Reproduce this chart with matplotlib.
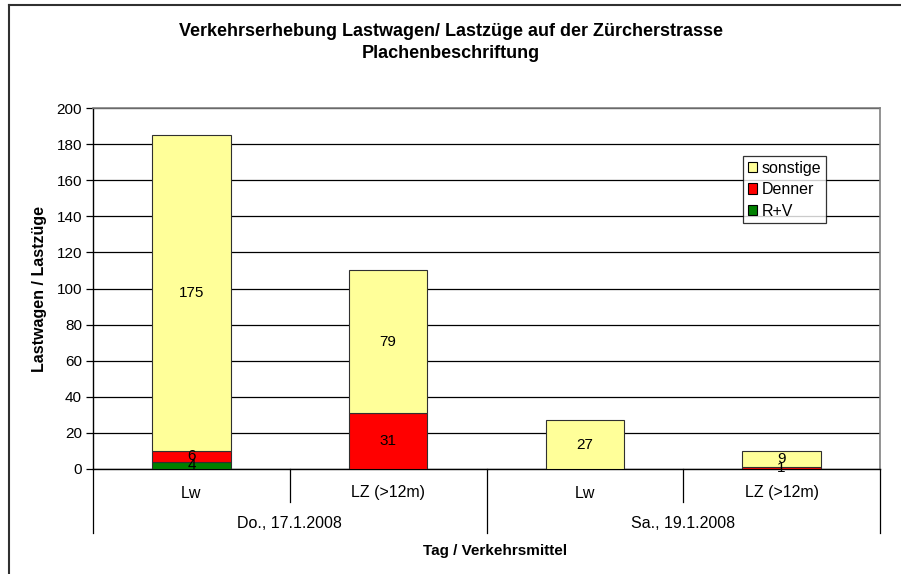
import matplotlib
matplotlib.use("Agg")
import matplotlib.pyplot as plt
from matplotlib.transforms import blended_transform_factory
from matplotlib.lines import Line2D
from matplotlib.patches import Patch
import numpy as np

plt.rcParams['font.family'] = ['Liberation Sans', 'DejaVu Sans']

categories = ["Lw", "LZ (>12m)", "Lw", "LZ (>12m)"]
groups = ["Do., 17.1.2008", "Sa., 19.1.2008"]
series_names = ["R+V", "Denner", "sonstige"]
rv = [4, 0, 0, 0]
denner = [6, 31, 0, 1]
sonstige = [175, 79, 27, 9]
colors = ["#008000", "#FF0000", "#FFFF99"]
yticks = [0, 20, 40, 60, 80, 100, 120, 140, 160, 180, 200]

W, H = 901, 574
fig = plt.figure(figsize=(W / 100, H / 100), dpi=100)
fig.patch.set_facecolor("white")

def fx(px):
    return px / W

def fy(py):
    return 1 - py / H

left, right, top, bottom = 93, 880, 108, 469
ax = fig.add_axes([fx(left), fy(bottom), fx(right - left), (bottom - top) / H])

x = np.arange(len(categories))
data = [rv, denner, sonstige]
base = np.zeros(len(categories))
for vals, col in zip(data, colors):
    vals = np.array(vals, dtype=float)
    ax.bar(x, vals, width=0.40, bottom=base, color=col, edgecolor="#303030",
           linewidth=0.8, zorder=3)
    for xi, v, b in zip(x, vals, base):
        if v > 0:
            ax.text(xi, b + v / 2, f"{int(v)}", ha="center", va="center",
                    fontsize=11, color="black", zorder=4)
    base = base + vals

ax.set_xlim(-0.5, len(categories) - 0.5)
ax.set_ylim(0, 200)
ax.set_yticks(yticks)
ax.set_yticklabels([str(t) for t in yticks], fontsize=11)
ax.yaxis.grid(True, color="black", linewidth=0.9, zorder=0)
ax.set_axisbelow(True)
ax.tick_params(axis="y", direction="out", length=5, width=0.9, pad=3, colors="black")
ax.set_xticks([])
for s in ["top", "right"]:
    ax.spines[s].set_color("#808080")
    ax.spines[s].set_linewidth(1.2)
ax.spines["left"].set_color("black")
ax.spines["bottom"].set_color("black")
ax.spines["left"].set_linewidth(1.0)
ax.spines["bottom"].set_linewidth(1.0)

# multi-level category axis
tr = blended_transform_factory(ax.transData, fig.transFigure)
for i, c in enumerate(categories):
    ax.text(i, fy(493), c, transform=tr, ha="center", va="center", fontsize=11.5)
for b in np.arange(-0.5, len(categories), 1.0):
    major = (b in (-0.5, 1.5, 3.5))
    yend = 533 if major else 502
    ax.add_line(Line2D([b, b], [fy(bottom), fy(yend)], transform=tr,
                       color="black", linewidth=0.9, clip_on=False))
for g, name in enumerate(groups):
    ax.text(2 * g + 0.5, fy(523), name, transform=tr, ha="center", va="center",
            fontsize=11.5)

fig.text(fx(495), fy(551), "Tag / Verkehrsmittel", ha="center", va="center",
         fontsize=11, fontweight="bold")
fig.text(fx(40), fy(289), "Lastwagen / Lastzüge", rotation=90,
         ha="center", va="center", fontsize=11.5, fontweight="bold")
fig.text(fx(451), fy(31), "Verkehrserhebung Lastwagen/ Lastzüge auf der Zürcherstrasse",
         ha="center", va="center", fontsize=13, fontweight="bold")
fig.text(fx(451), fy(53), "Plachenbeschriftung",
         ha="center", va="center", fontsize=13, fontweight="bold")

handles = [Patch(facecolor=colors[i], edgecolor="black", linewidth=0.8,
                 label=series_names[i]) for i in [2, 1, 0]]
leg = fig.legend(handles=handles, loc="upper left",
                 bbox_to_anchor=(fx(743), fy(156)), frameon=True, fancybox=False,
                 fontsize=11.5, handlelength=0.6, handleheight=0.6,
                 handletextpad=0.25, labelspacing=0.4, borderpad=0.3,
                 borderaxespad=0)
leg.get_frame().set_edgecolor("black")
leg.get_frame().set_linewidth(0.9)

# chart area border (left and top visible)
fig.add_artist(Line2D([fx(8.5), fx(8.5)], [fy(4.5), 0], transform=fig.transFigure,
                      color="#303030", linewidth=1.5))
fig.add_artist(Line2D([fx(8.5), 1], [fy(4.5), fy(4.5)], transform=fig.transFigure,
                      color="#303030", linewidth=1.5))

fig.savefig("out.png", dpi=100)
